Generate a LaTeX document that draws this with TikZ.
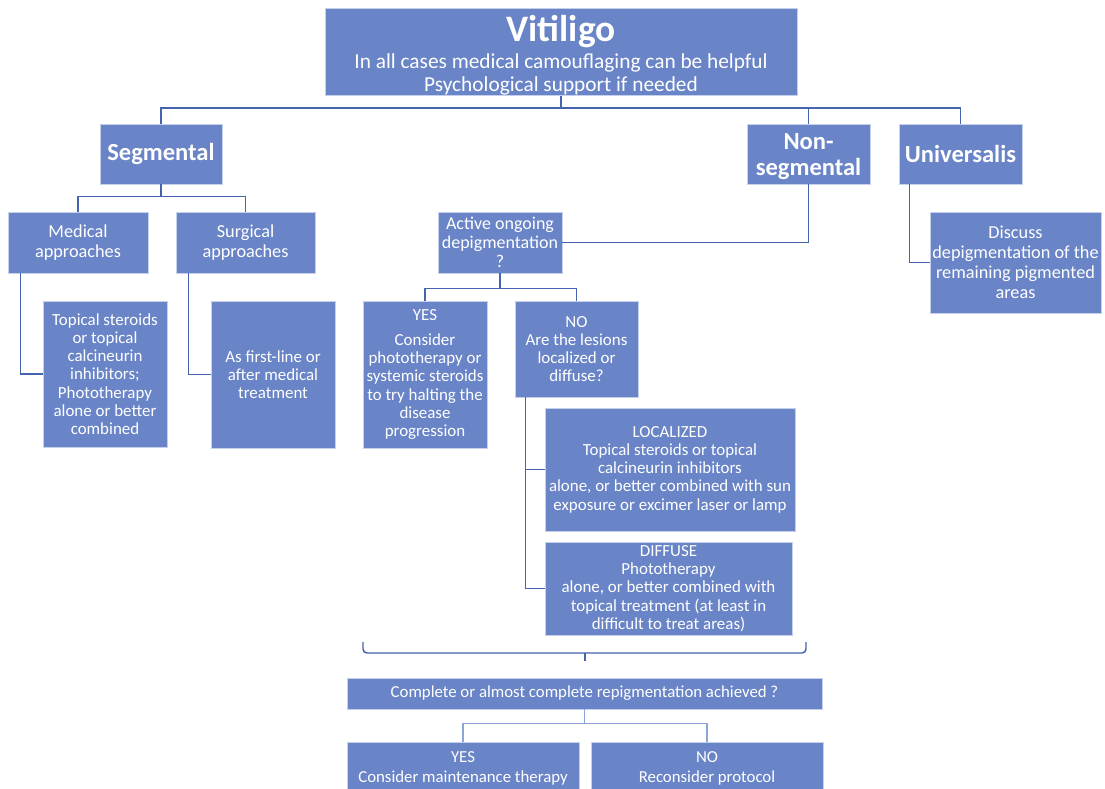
\documentclass[tikz,border=0pt]{standalone}
\usepackage{fontspec}
\setmainfont{Carlito}
\usetikzlibrary{calc}
\definecolor{boxfill}{RGB}{105,132,199}
\definecolor{boxedge}{RGB}{196,208,236}
\definecolor{linedark}{RGB}{70,100,172}
\definecolor{linelight}{RGB}{140,165,215}
\tikzset{
  box/.style={fill=boxfill, draw=boxedge, line width=0.6pt, inner sep=0pt, text=white, align=center},
  boxat/.style n args={4}{at={({(#1+#3)/2},{(#2+#4)/2})}, minimum width={(#3-#1)*0.75pt}, minimum height={(#4-#2)*0.75pt}},
  fsmall/.style={font=\fontsize{12.7}{13.7}\selectfont},
  fmed/.style={font=\fontsize{13.7}{15}\selectfont},
  fhead/.style={font=\fontsize{18.4}{19.5}\selectfont\bfseries},
  fbot/.style={font=\fontsize{12.6}{15}\selectfont},
  conn/.style={draw=linedark, line width=1.1pt},
  connlight/.style={draw=linelight, line width=0.9pt},
}
\begin{document}
\begin{tikzpicture}[x=0.75pt,y=-0.75pt]
\fill[white] (0,0) rectangle (1105,788);
\useasboundingbox (0,0) rectangle (1105,788);
% top
\node[box, boxat={325}{9}{797}{95}, font=\fontsize{16}{17.3}\selectfont] (vit) {{\fontsize{28}{28}\selectfont\bfseries\rule{0pt}{25pt}Vitiligo}\\[3pt]In all cases medical camouflaging can be helpful\\Psychological support if needed};
\node[box, fhead, boxat={100}{124}{222}{184}] (seg) {Segmental};
\node[box, fhead, boxat={747}{124}{870}{184}] (nonseg) {\rule{0pt}{16pt}Non-\\segmental};
\node[box, fhead, boxat={899}{124}{1022}{184}] (univ) {Universalis};
% segmental
\node[box, fmed, boxat={8}{212}{148}{273}] (med) {Medical\\approaches};
\node[box, fmed, boxat={176}{212}{315}{273}] (surg) {Surgical\\approaches};
\node[box, fsmall, boxat={43}{301}{167}{447}] (topi) {Topical steroids\\or topical\\calcineurin\\inhibitors;\\Phototherapy\\alone or better\\combined};
\node[box, fsmall, boxat={211}{301}{335}{448}] (first) {As first-line or\\after medical\\treatment};
% non segmental
\node[box, font=\fontsize{13.5}{14.3}\selectfont, boxat={438}{212}{562}{273}] (act) {Active ongoing\\depigmentation\\?};
\node[box, fsmall, boxat={363}{301}{487}{448}] (yes) {YES\\[5pt]Consider\\phototherapy or\\systemic steroids\\to try halting the\\disease\\progression};
\node[box, fsmall, boxat={515}{301}{638}{397}] (no) {NO\\Are the lesions\\localized or\\diffuse?};
\node[box, fsmall, boxat={545}{408}{795}{531}] (loc) {LOCALIZED\\Topical steroids or topical\\calcineurin inhibitors\\alone, or better combined with sun\\exposure or excimer laser or lamp};
\node[box, fsmall, boxat={545}{542}{792}{635}] (diff) {DIFFUSE\\Phototherapy\\alone, or better combined with\\topical treatment (at least in\\difficult to treat areas)};
% universalis
\node[box, fmed, boxat={930}{212}{1101}{313}] (disc) {Discuss\\depigmentation of the\\remaining pigmented\\areas};
% bottom
\node[box, fbot, boxat={347}{678}{822}{709}] (comp) {Complete or almost complete repigmentation achieved ?};
\node[box, fbot, boxat={347}{742}{579}{794}] (byes) {YES\\Consider maintenance therapy};
\node[box, fbot, boxat={591}{742}{823}{794}] (bno) {NO\\Reconsider protocol};
% connectors
\coordinate (bus) at (561,108);
\draw[conn] (vit.south) -- (bus);
\draw[conn] (seg.north) |- (bus) -| (univ.north);
\draw[conn] (nonseg.north) -- (nonseg.north |- bus);
\draw[conn] (seg.south) -- ++(0,12) coordinate (sb);
\draw[conn] (med.north) |- (sb) -| (surg.north);
\draw[conn] ($(med.south west)+(13,0)$) |- (topi.west);
\draw[conn] ($(surg.south west)+(13,0)$) |- (first.west);
\draw[conn] (act.east) -| (nonseg.south);
\draw[conn] (act.south) -- ++(0,15) coordinate (ab);
\draw[conn] (yes.north) |- (ab) -| (no.north);
\draw[conn] ($(no.south west)+(11,0)$) |- (loc.west);
\draw[conn] ($(no.south west)+(11,0)$) |- (diff.west);
\draw[conn] ($(univ.south west)+(11,0)$) |- (disc.west);
% brace
\coordinate (brL) at (363,642);
\coordinate (brR) at (806,642);
\coordinate (brM) at (585,653);
\coordinate (brT) at (585,661);
\draw[conn, rounded corners=3pt] (brL) -- (brL |- brM) -- (brM) -- (brR |- brM) -- (brR);
\draw[conn] (brM) -- (brT);
\draw[connlight] (comp.south) -- ++(0,14) coordinate (cb);
\draw[connlight] (byes.north) |- (cb) -| (bno.north);
\end{tikzpicture}
\end{document}
